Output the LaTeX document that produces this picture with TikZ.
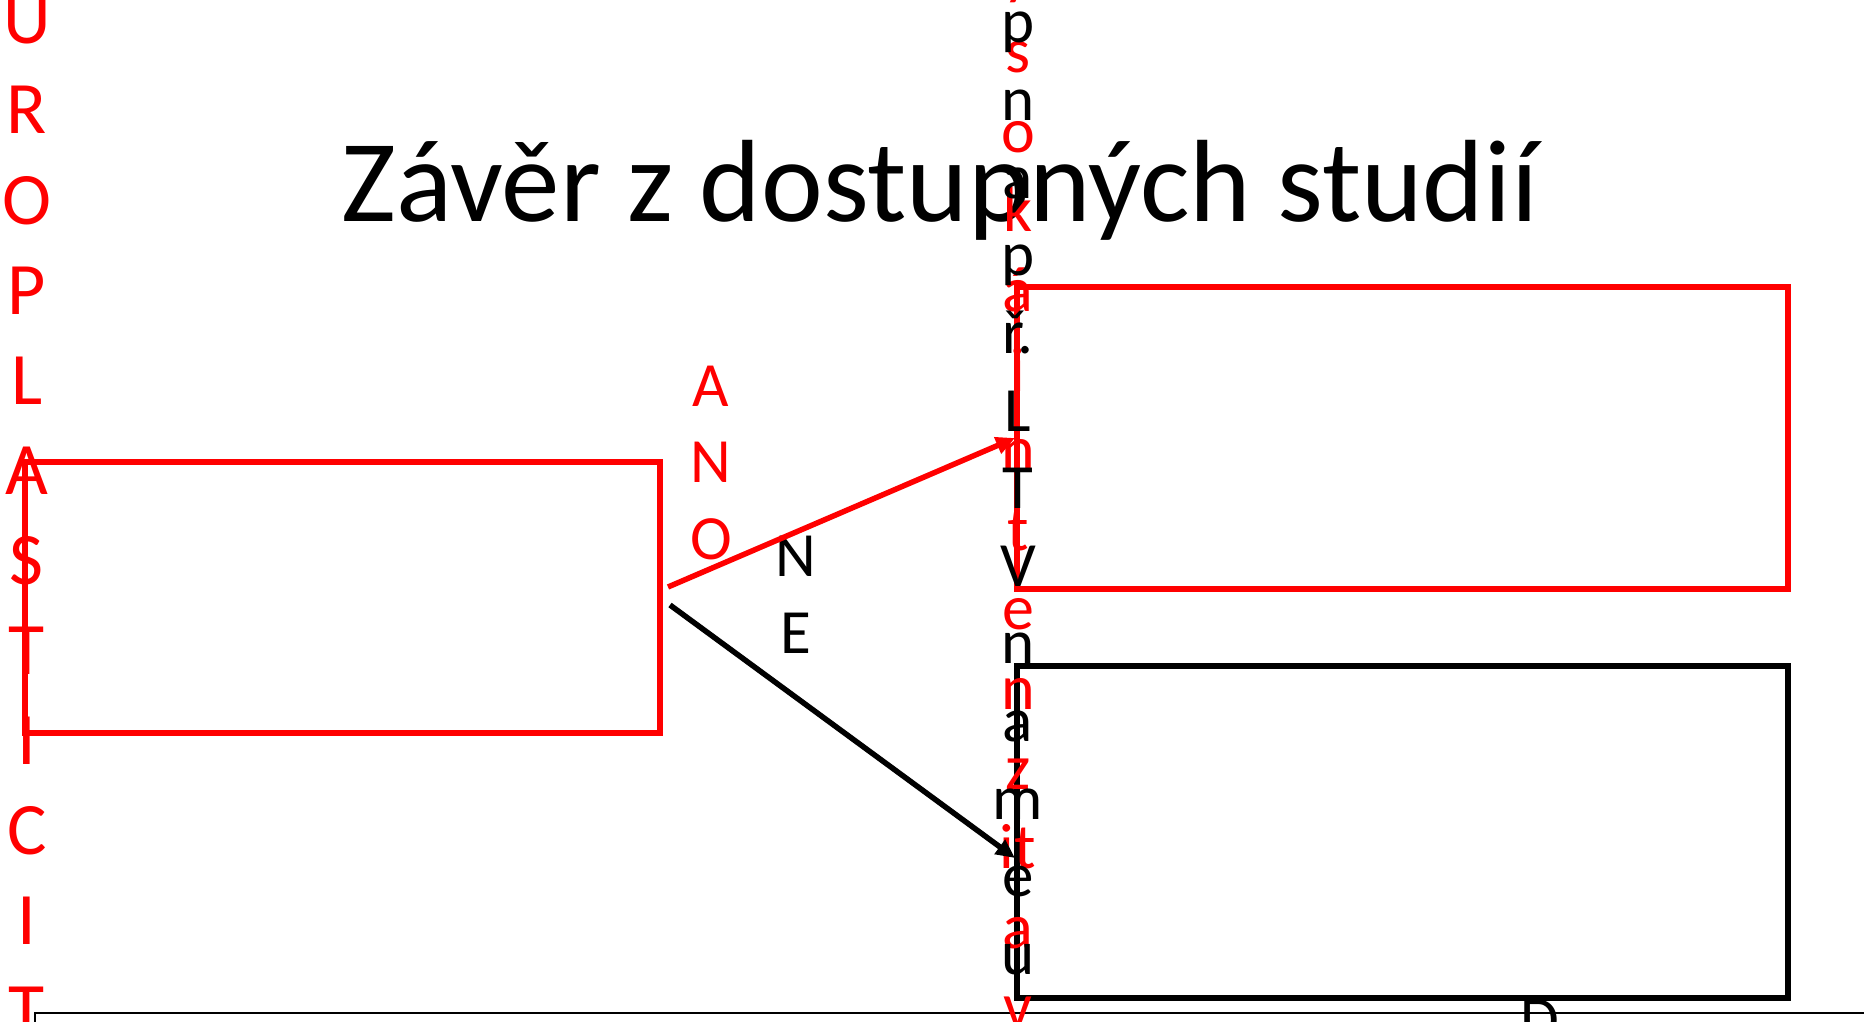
\documentclass[tikz,border=0pt]{standalone}
\usepackage{fontspec}
\setmainfont{Carlito}
\usetikzlibrary{arrows.meta}
\begin{document}
\begin{tikzpicture}[x=1pt,y=-1pt,
  box/.style={draw, line width=5.5pt, inner sep=0pt, outer sep=0pt, anchor=north west},
  lbl/.style={inner sep=0pt, anchor=base},
  arr/.style={line width=5.5pt, -{Triangle[length=19pt,width=17pt]}}]
\useasboundingbox (0,0) rectangle (1864,1022);
\clip (0,0) rectangle (1864,1022);
% title
\node[lbl, font=\fontsize{117}{140}\selectfont] (title) at (940,222) {Závěr z dostupných studií};
% boxes
\node[box, draw=red, minimum width=635pt, minimum height=271pt] (leftbox) at (25,462) {};
\node[box, draw=red, minimum width=771pt, minimum height=302pt] (redbox) at (1017,287) {};
\node[box, draw=black, minimum width=771pt, minimum height=332pt] (blackbox) at (1017,666) {};
\node[draw=black, line width=2pt, inner sep=0pt, outer sep=0pt, anchor=north west, minimum width=1900pt, minimum height=200pt] (bottombox) at (35,1013) {};
% left vertical text
\foreach \t [count=\i from 0] in {U,R,O,P,L,A,S,T,I,C,I,T}
  \node[lbl, text=red, font=\fontsize{74}{90}\selectfont] (lt\i) at (27,{44+90*\i}) {\t};
% red vertical text
\foreach \t [count=\i from 0] in {y,s,o,k,á,i,n,t,e,n,z,it,a,v}
  \node[lbl, text=red, font=\fontsize{64}{80}\selectfont] (rt\i) at (1018,{-7+79.6*\i}) {\t};
% black vertical text
\foreach \t [count=\i from 0] in {p,n,a,p,ř.,L,T,V,n,a,m,e,u}
  \node[lbl, text=black, font=\fontsize{63}{78}\selectfont] (bt\i) at (1018,{43+77.6*\i}) {\t};
% ANO / NE
\foreach \t [count=\i from 0] in {A,N,O}
  \node[lbl, text=red, font=\fontsize{63}{77}\selectfont] (ano\i) at (711,{406+76.5*\i}) {\t};
\foreach \t [count=\i from 0] in {N,E}
  \node[lbl, text=black, font=\fontsize{63}{77}\selectfont] (ne\i) at (796,{576+77*\i}) {\t};
\node[lbl, font=\fontsize{63}{77}\selectfont] (bottomD) at (1540,1040) {D};
% arrows
\coordinate (rs) at (668,587);
\coordinate (re) at (1015,438);
\coordinate (bs) at (670,605);
\coordinate (be) at (1015,858);
\draw[arr, red] (rs) -- (re);
\draw[arr, black] (bs) -- (be);
\end{tikzpicture}
\end{document}
